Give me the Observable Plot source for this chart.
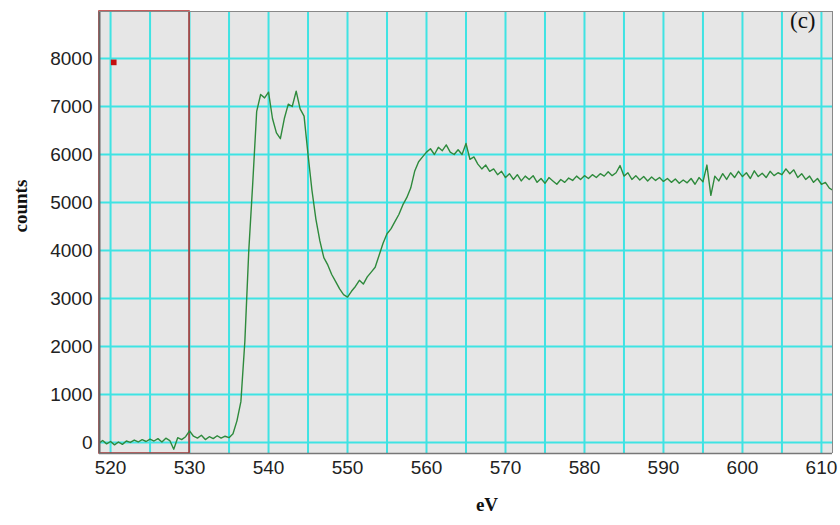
<!DOCTYPE html>
<html>
<head>
<meta charset="utf-8">
<script src="https://cdn.jsdelivr.net/npm/d3@7"></script>
<script src="https://cdn.jsdelivr.net/npm/@observablehq/plot@0.6"></script>
<style>
  html, body { margin: 0; padding: 0; background: #ffffff; }
  #chart svg { display: block; }
</style>
</head>
<body>
<div id="chart"></div>
<script>
// Energy grid (eV) of the sampled spectrum: 518.5 … 611.5 in 0.5 eV steps
const eV = d3.range(518.5, 611.75, 0.5);

// Counts, rows of 10 samples
const counts = [
  -20, 40, -30, 20, -50, 10, -40, 30, 0, 50,               // 518.5–523.0
  10, 60, 20, 70, 30, 80, 10, 90, 40, -140,                // 523.5–528.0
  100, 60, 120, 240, 130, 90, 150, 60, 120, 80,            // 528.5–533.0
  140, 90, 130, 100, 180, 450, 850, 2100, 4000, 5400,      // 533.5–538.0
  6900, 7250, 7180, 7300, 6750, 6450, 6330, 6750, 7050, 7000, // 538.5–543.0
  7320, 6950, 6800, 6000, 5250, 4650, 4200, 3850, 3700, 3500, // 543.5–548.0
  3350, 3200, 3080, 3030, 3150, 3250, 3380, 3300, 3450, 3550, // 548.5–553.0
  3650, 3900, 4150, 4350, 4450, 4600, 4750, 4950, 5100, 5300, // 553.5–558.0
  5650, 5850, 5950, 6050, 6120, 6000, 6150, 6080, 6200, 6050, // 558.5–563.0
  6000, 6100, 6000, 6230, 5900, 5950, 5800, 5700, 5780, 5650, // 563.5–568.0
  5700, 5580, 5650, 5520, 5600, 5480, 5580, 5450, 5550, 5480, // 568.5–573.0
  5560, 5420, 5500, 5400, 5520, 5450, 5380, 5480, 5420, 5510, // 573.5–578.0
  5460, 5550, 5480, 5560, 5500, 5580, 5520, 5600, 5550, 5640, // 578.5–583.0
  5560, 5620, 5770, 5550, 5620, 5480, 5560, 5470, 5540, 5450, // 583.5–588.0
  5530, 5460, 5520, 5440, 5500, 5420, 5490, 5400, 5470, 5410, // 588.5–593.0
  5500, 5380, 5520, 5430, 5780, 5150, 5550, 5450, 5600, 5480, // 593.5–598.0
  5620, 5520, 5650, 5540, 5620, 5500, 5660, 5540, 5610, 5520, // 598.5–603.0
  5650, 5560, 5620, 5580, 5700, 5600, 5680, 5520, 5600, 5480, // 603.5–608.0
  5550, 5420, 5500, 5380, 5420, 5300, 5250                    // 608.5–611.5
];

// Axis ticks / grid
const xTickLabels = [520, 530, 540, 550, 560, 570, 580, 590, 600, 610];
const xGrid = [520, 525, 530, 535, 540, 545, 550, 555, 560, 565, 570, 575, 580, 585, 590, 595, 600, 605, 610];
const yTicks = [0, 1000, 2000, 3000, 4000, 5000, 6000, 7000, 8000];

// Scale extents
const xDomain = [518.6, 611.4];
const yDomain = [-230, 8980];

// Annotations: red selection window and marker
const windowEnd = [530];
const marker = [{x: 520.4, y: 7920}];

const data = eV.map((e, i) => ({eV: e, counts: counts[i]}));

const chart = Plot.plot({
  width: 840,
  height: 525,
  marginLeft: 99,
  marginRight: 8,
  marginTop: 11,
  marginBottom: 72,
  style: {fontFamily: "'Liberation Sans', Arial, sans-serif", fontSize: "19px", color: "#222", background: "#ffffff"},
  x: {domain: xDomain, label: null},
  y: {domain: yDomain, label: null},
  marks: [
    Plot.frame({fill: "#e6e6e6", stroke: null}),
    Plot.gridX(xGrid, {stroke: "#3fe3e3", strokeOpacity: 1, strokeWidth: 2}),
    Plot.gridY(yTicks, {stroke: "#3fe3e3", strokeOpacity: 1, strokeWidth: 2}),
    Plot.rect(windowEnd, {x1: xDomain[0], x2: d => d, y1: yDomain[0], y2: yDomain[1], fill: "none", stroke: "#b42828", strokeWidth: 1.5}),
    Plot.line(data, {x: "eV", y: "counts", stroke: "#2e8a3c", strokeWidth: 1.4, clip: true}),
    Plot.dot(marker, {x: "x", y: "y", symbol: "square", r: 3.2, fill: "#c41010", stroke: null}),
    Plot.ruleX([xDomain[0]], {stroke: "#666", strokeWidth: 2}),
    Plot.ruleY([yDomain[0]], {stroke: "#777", strokeWidth: 1.5}),
    Plot.ruleX([xDomain[1]], {stroke: "#888", strokeWidth: 1}),
    Plot.ruleY([yDomain[1]], {stroke: "#888", strokeWidth: 1}),
    Plot.axisX(xTickLabels, {anchor: "bottom", tickSize: 0, tickPadding: 7, tickFormat: d => String(d), label: null}),
    Plot.axisY(yTicks, {anchor: "left", tickSize: 0, tickPadding: 7, tickFormat: d => String(d), label: null}),
    Plot.text(["counts"], {frameAnchor: "left", dx: -79, rotate: -90, fontFamily: "'Liberation Serif', 'Times New Roman', serif", fontWeight: "bold", fontSize: 19, fill: "#111"}),
    Plot.text(["eV"], {frameAnchor: "bottom", dx: 21, dy: 57, fontFamily: "'Liberation Serif', 'Times New Roman', serif", fontWeight: "bold", fontSize: 19, fill: "#111"}),
    Plot.text(["(c)"], {frameAnchor: "top-right", textAnchor: "end", lineAnchor: "top", dx: -17, dy: 0, fontFamily: "'Liberation Serif', 'Times New Roman', serif", fontSize: 23, fill: "#111"})
  ]
});

document.getElementById("chart").appendChild(chart);
</script>
</body>
</html>
